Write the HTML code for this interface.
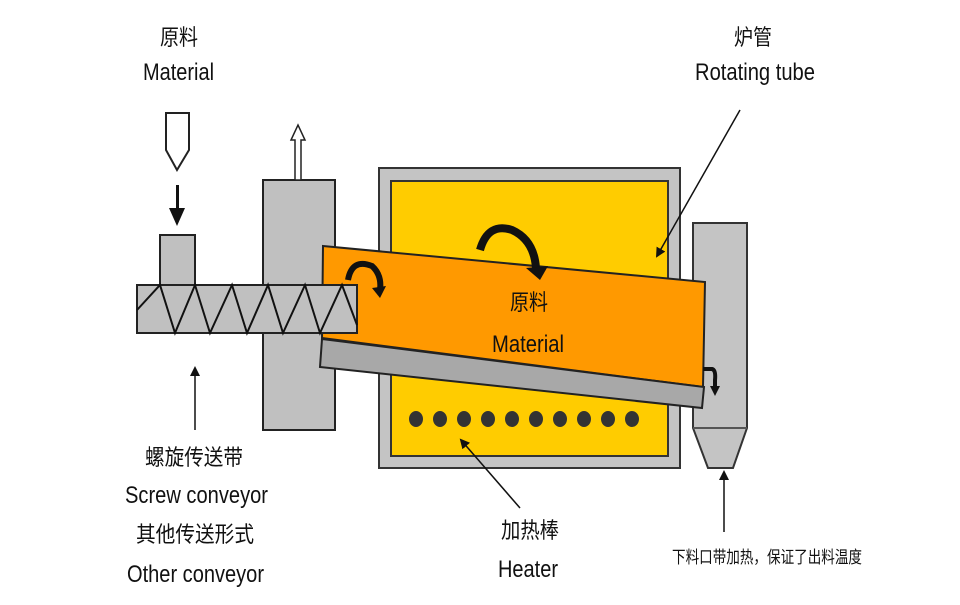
<!DOCTYPE html>
<html><head><meta charset="utf-8"><style>
body{margin:0;background:#fff;}
svg text{font-family:"Liberation Sans","Noto Sans CJK SC",sans-serif;fill:#111;}
</style></head><body>
<svg width="960" height="600" viewBox="0 0 960 600" xmlns="http://www.w3.org/2000/svg">
<defs>
<marker id="ah" markerWidth="10" markerHeight="10" refX="8" refY="5" orient="auto" markerUnits="userSpaceOnUse"><path d="M0,0 L10,5 L0,10 z" fill="#111"/></marker>
</defs>
<rect x="263" y="180" width="72" height="250" fill="#c0c0c0" stroke="#222" stroke-width="2"/>
<path d="M295,180 V140 H291 L298,125 L305,140 H301 V180 z" fill="#fff" stroke="#222" stroke-width="1.5"/>
<rect x="160" y="235" width="35" height="50" fill="#c0c0c0" stroke="#222" stroke-width="2"/>
<path d="M166,113 H189 V150 L177,170 L166,150 z" fill="#fff" stroke="#222" stroke-width="2"/>
<path d="M176,185 V208 H169 L177,226 L185,208 H179 V185 z" fill="#111"/>
<rect x="379" y="168" width="301" height="300" fill="#c4c4c4" stroke="#333" stroke-width="2"/>
<rect x="391" y="181" width="277" height="275" fill="#ffcc00" stroke="#333" stroke-width="2"/>
<g fill="#333">
<ellipse cx="416" cy="419" rx="7" ry="8"/><ellipse cx="440" cy="419" rx="7" ry="8"/><ellipse cx="464" cy="419" rx="7" ry="8"/><ellipse cx="488" cy="419" rx="7" ry="8"/><ellipse cx="512" cy="419" rx="7" ry="8"/><ellipse cx="536" cy="419" rx="7" ry="8"/><ellipse cx="560" cy="419" rx="7" ry="8"/><ellipse cx="584" cy="419" rx="7" ry="8"/><ellipse cx="608" cy="419" rx="7" ry="8"/><ellipse cx="632" cy="419" rx="7" ry="8"/>
</g>
<path d="M693,223 H747 V428 L733,468 H708 L693,428 z" fill="#c4c4c4" stroke="#333" stroke-width="2"/>
<line x1="693" y1="428" x2="747" y2="428" stroke="#555" stroke-width="2"/>
<path d="M323,246 L705,282 L703,387 L322,338 z" fill="#ff9900" stroke="#222" stroke-width="2"/>
<path d="M322,339 L704,387 L702,408 L320,367 z" fill="#a8a8a8" stroke="#222" stroke-width="2"/>
<rect x="137" y="285" width="220" height="48" fill="#c0c0c0" stroke="#222" stroke-width="2"/>
<polyline points="137,310 160,285 175,333 195,285 210,333 232,285 247,333 268,285 283,333 305,285 320,333 342,285 357,325" fill="none" stroke="#111" stroke-width="2"/>
<path d="M348,280 Q352,258 372,266 Q382,275 380,290" fill="none" stroke="#111" stroke-width="6"/>
<path d="M372,288 L380,298 L386,286 z" fill="#111"/>
<path d="M480,250 Q488,222 512,230 Q534,240 536,268" fill="none" stroke="#111" stroke-width="8"/>
<path d="M526,268 L540,280 L548,266 z" fill="#111"/>
<path d="M703,369 H712 Q716,370 715,380 V388" fill="none" stroke="#111" stroke-width="4"/>
<path d="M710,386 L715,396 L720,386 z" fill="#111"/>
<line x1="740" y1="110" x2="657" y2="256" stroke="#111" stroke-width="1.5" marker-end="url(#ah)"/>
<line x1="520" y1="508" x2="461" y2="440" stroke="#111" stroke-width="1.5" marker-end="url(#ah)"/>
<line x1="195" y1="430" x2="195" y2="368" stroke="#111" stroke-width="1.5" marker-end="url(#ah)"/>
<line x1="724" y1="532" x2="724" y2="472" stroke="#111" stroke-width="1.5" marker-end="url(#ah)"/>
<g font-size="22" lengthAdjust="spacingAndGlyphs">
<text x="160" y="45" textLength="38" lengthAdjust="spacingAndGlyphs">原料</text>
<text x="143" y="80" font-size="24" textLength="71" lengthAdjust="spacingAndGlyphs">Material</text>
<text x="734" y="45" textLength="38" lengthAdjust="spacingAndGlyphs">炉管</text>
<text x="695" y="80" font-size="24" textLength="120" lengthAdjust="spacingAndGlyphs">Rotating tube</text>
<text x="510" y="310" textLength="38" lengthAdjust="spacingAndGlyphs">原料</text>
<text x="492" y="352" font-size="24" textLength="72" lengthAdjust="spacingAndGlyphs">Material</text>
<text x="145" y="465" textLength="98" lengthAdjust="spacingAndGlyphs">螺旋传送带</text>
<text x="125" y="503" font-size="24" textLength="143" lengthAdjust="spacingAndGlyphs">Screw conveyor</text>
<text x="136" y="542" textLength="118" lengthAdjust="spacingAndGlyphs">其他传送形式</text>
<text x="127" y="582" font-size="24" textLength="137" lengthAdjust="spacingAndGlyphs">Other conveyor</text>
<text x="501" y="538" textLength="58" lengthAdjust="spacingAndGlyphs">加热棒</text>
<text x="498" y="577" font-size="24" textLength="60" lengthAdjust="spacingAndGlyphs">Heater</text>
<text x="672" y="563" font-size="17" textLength="190" lengthAdjust="spacingAndGlyphs">下料口带加热，保证了出料温度</text>
</g>
</svg>
</body></html>
